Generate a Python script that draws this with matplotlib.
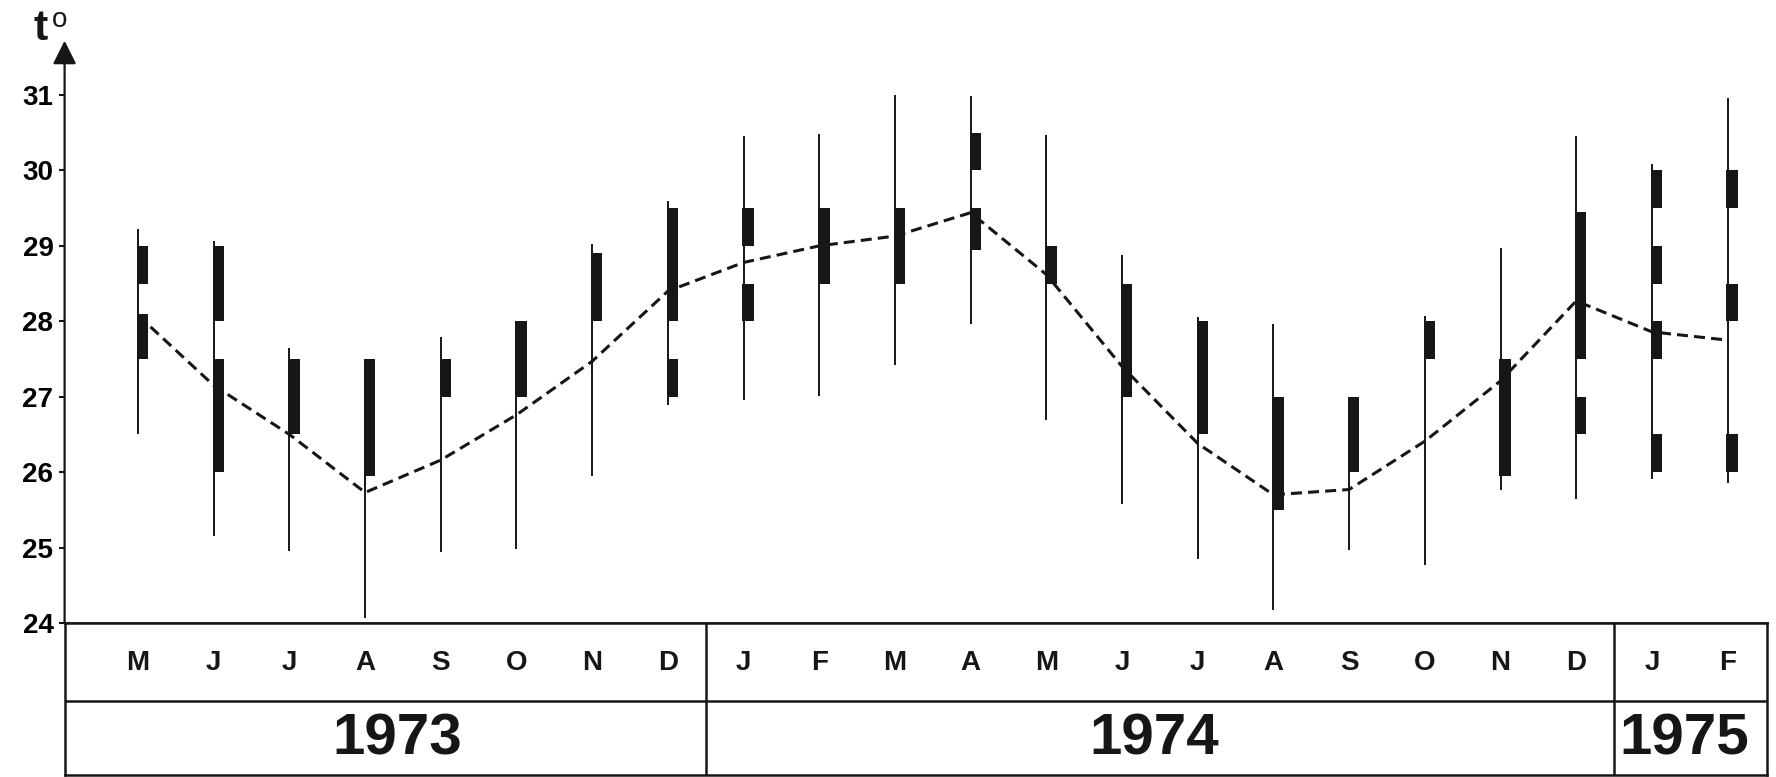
import matplotlib.pyplot as plt

plt.rcParams['font.family'] = ['Liberation Sans', 'DejaVu Sans']

# monthly sea temperature, March 1973 - February 1975
months = ['M', 'J', 'J', 'A', 'S', 'O', 'N', 'D',
          'J', 'F', 'M', 'A', 'M', 'J', 'J', 'A', 'S', 'O', 'N', 'D',
          'J', 'F']
t_min = [26.5, 25.15, 24.95, 24.07, 24.94, 24.98, 25.95, 26.89,
         26.96, 27.01, 27.42, 27.96, 26.69, 25.58, 24.85, 24.17, 24.97, 24.77, 25.76, 25.64,
         25.91, 25.86]
t_max = [29.22, 29.07, 27.65, 27.5, 27.79, 28.0, 29.02, 29.59,
         30.45, 30.48, 31.0, 30.99, 30.47, 28.88, 28.06, 27.97, 26.98, 28.07, 28.97, 30.45,
         30.08, 30.96]
t_mean = [28.08, 27.15, 26.5, 25.73, 26.16, 26.76, 27.47, 28.4,
          28.78, 29.0, 29.13, 29.44, 28.62, 27.4, 26.38, 25.7, 25.77, 26.41, 27.21, 28.27,
          27.86, 27.75]

# frequent ranges (thick segments): month index, low, high
seg_month = [0, 0, 1, 1, 2, 3, 4, 5, 6, 7, 7, 8, 8, 9, 10, 11, 11, 12, 13, 14,
             15, 16, 17, 18, 19, 19, 20, 20, 20, 20, 21, 21, 21]
seg_low = [28.5, 27.5, 28.0, 26.0, 26.5, 25.95, 27.0, 27.0, 28.0, 28.0, 27.0,
           29.0, 28.0, 28.5, 28.5, 30.0, 28.95, 28.5, 27.0, 26.5,
           25.5, 26.0, 27.5, 25.95, 27.5, 26.5, 29.5, 28.5, 27.5, 26.0,
           29.5, 28.0, 26.0]
seg_high = [29.0, 28.1, 29.0, 27.5, 27.5, 27.5, 27.5, 28.0, 28.9, 29.5, 27.5,
            29.5, 28.5, 29.5, 29.5, 30.5, 29.5, 29.0, 28.5, 28.0,
            27.0, 27.0, 28.0, 27.5, 29.45, 27.0, 30.0, 29.0, 28.0, 26.5,
            30.0, 28.5, 26.5]

years = ['1973', '1974', '1975']
year_first = [0, 8, 20]
year_last = [7, 19, 21]

ink = '#161616'
x = list(range(len(months)))

fig = plt.figure(figsize=(17.76, 7.77), dpi=100)
ax = fig.add_axes([0.03637, 0.1982, 0.95856, 0.7465])
tab = fig.add_axes([0.03637, 0.0026, 0.95856, 0.1956])

# min-max range of each month
ax.vlines(x, t_min, t_max, color=ink, lw=1.4)
# thick bars sit just right of the range line
ax.bar([x[m] - 0.015 for m in seg_month],
       [h - l for l, h in zip(seg_low, seg_high)],
       bottom=seg_low, width=0.15, align='edge', color=ink, lw=0)
# monthly mean
ax.plot(x, t_mean, color=ink, lw=2.2, dashes=(3.6, 2.0))

ax.set_xlim(-0.97, 21.52)
ax.set_ylim(24, 31.69)
ax.set_yticks(range(24, 32))
ax.set_xticks(x)
ax.set_xticklabels([])
ax.tick_params(axis='y', direction='out', length=4, width=1.5, pad=4,
               labelsize=20, color=ink)
ax.tick_params(axis='x', direction='out', length=4, width=1.5, color=ink)
for lab in ax.get_yticklabels():
    lab.set_fontweight('bold')
for side in ['top', 'right']:
    ax.spines[side].set_visible(False)
ax.spines['left'].set_visible(False)
ax.spines['bottom'].set_linewidth(1.8)
ax.spines['bottom'].set_color(ink)

# vertical axis with arrow head
ax.annotate('', xy=(-0.97, 31.72), xytext=(-0.97, 24),
            xycoords='data', annotation_clip=False,
            arrowprops=dict(arrowstyle='-|>', lw=1.6, color=ink,
                            mutation_scale=36, shrinkA=0, shrinkB=0))
fig.text(33 / 1776, 1 - 40 / 777, 't', fontsize=31, fontweight='bold',
         color=ink, ha='left', va='baseline')
fig.text(52 / 1776, 1 - 27 / 777, 'o', fontsize=20, color=ink,
         ha='left', va='baseline')

# month / year table under the plot
tab.set_xlim(-0.97, 21.52)
tab.set_ylim(0, 1)
tab.set_xticks([])
tab.set_yticks([])
for side in tab.spines.values():
    side.set_linewidth(1.8)
    side.set_color(ink)
tab.axhline(0.487, color=ink, lw=1.8)
for first in year_first[1:]:
    tab.axvline(first - 0.5, color=ink, lw=1.8)
for xi, m in zip(x, months):
    tab.text(xi, 0.74, m, ha='center', va='center', fontsize=20,
             fontweight='bold', color=ink)
for name, a, b in zip(years, year_first, year_last):
    tab.text((a + b) / 2 - 0.07, 0.235, name, ha='center', va='center',
             fontsize=42, fontweight='bold', color=ink)

fig.savefig('out.png', dpi=100, facecolor='white')
